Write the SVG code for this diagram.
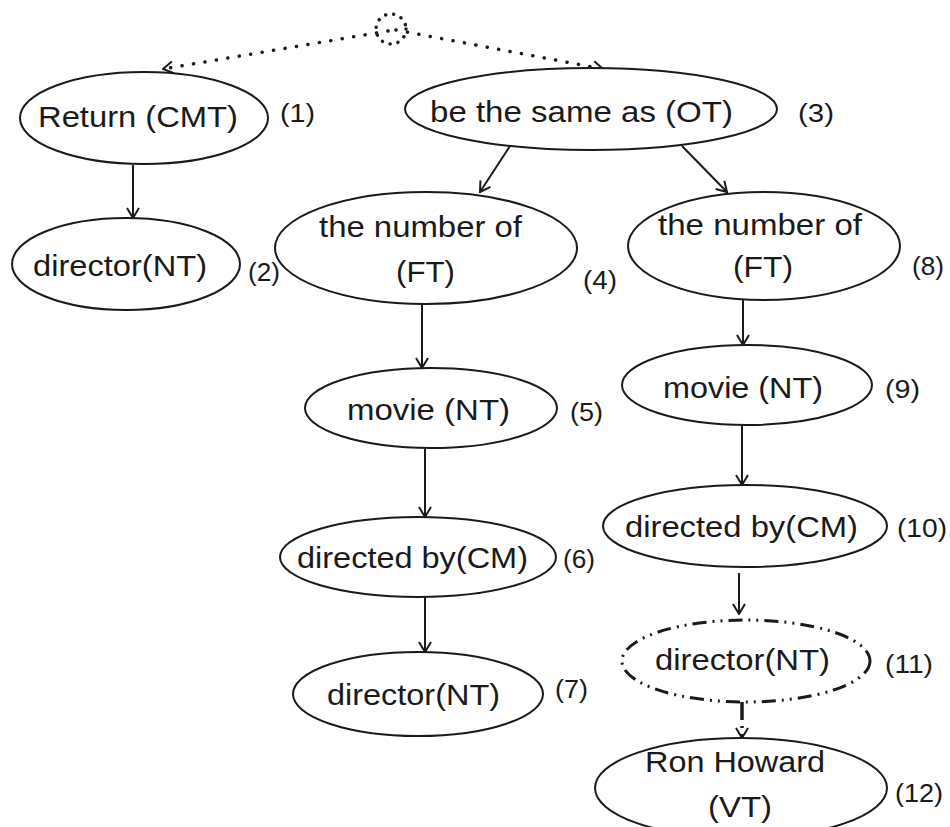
<svg xmlns="http://www.w3.org/2000/svg" width="950" height="827" viewBox="0 0 950 827">
<style>
.n{fill:#fff;stroke:#1a1a1a;stroke-width:2}
.dd{fill:#fff;stroke:#1a1a1a;stroke-width:3;stroke-dasharray:14 6 2 6 2 6;stroke-linecap:butt}
.t{font-family:"Liberation Sans",Arial,sans-serif;font-size:29px;fill:#1a1a1a}
.k{font-family:"Liberation Sans",Arial,sans-serif;font-size:26px;fill:#1a1a1a}
.e{stroke:#1a1a1a;stroke-width:2;fill:none;marker-end:url(#ah)}
.dot{stroke:#1a1a1a;stroke-width:3.5;fill:none;stroke-dasharray:0.1 11.5;stroke-linecap:round;marker-end:url(#ah)}
.thick{stroke:#1a1a1a;stroke-width:3.5;fill:none;stroke-dasharray:18 6 2 6;marker-end:url(#ah)}
</style>
<defs>
<marker id="ah" viewBox="-11 -7 12 14" refX="0" refY="0" markerWidth="12" markerHeight="14" markerUnits="userSpaceOnUse" orient="auto">
<path d="M-10,-6 L0,0 L-10,6" fill="none" stroke="#1a1a1a" stroke-width="2"/>
</marker>
</defs>
<rect width="950" height="827" fill="#fff"/>
<g id="connectors">
<path class="dot" d="M388,31 L163,69"/>
<path class="dot" d="M396,30 L603,69"/>
<path class="e" d="M133,165 L133,218"/>
<path class="e" d="M510,146 L480,192"/>
<path class="e" d="M682,146 L727,192"/>
<path class="e" d="M422,304 L422,368"/>
<path class="e" d="M743,300 L743,345"/>
<path class="e" d="M425,448 L425,517"/>
<path class="e" d="M742,425 L742,485"/>
<path class="e" d="M425,597 L425,652"/>
<path class="e" d="M739,573 L739,614"/>
<path class="thick" d="M742,702 L742,738"/>
</g>
<g id="root"><circle cx="391" cy="29" r="15" fill="none" stroke="#1a1a1a" stroke-width="3.5" stroke-dasharray="0.1 8" stroke-linecap="round"/></g>
<g id="n1"><ellipse class="n" cx="144" cy="118" rx="124" ry="46"/><text class="t" x="38" y="127" textLength="200" lengthAdjust="spacingAndGlyphs">Return (CMT)</text><text class="k" x="280" y="122" textLength="35" lengthAdjust="spacingAndGlyphs">(1)</text></g>
<g id="n2"><ellipse class="n" cx="126" cy="264" rx="114" ry="46"/><text class="t" x="33" y="276" textLength="174" lengthAdjust="spacingAndGlyphs">director(NT)</text><text class="k" x="248" y="281" textLength="32" lengthAdjust="spacingAndGlyphs">(2)</text></g>
<g id="n3"><ellipse class="n" cx="591" cy="109" rx="186" ry="41"/><text class="t" x="430" y="122" textLength="303" lengthAdjust="spacingAndGlyphs">be the same as (OT)</text><text class="k" x="798" y="122" textLength="36" lengthAdjust="spacingAndGlyphs">(3)</text></g>
<g id="n4"><ellipse class="n" cx="426" cy="248" rx="151" ry="56"/><text class="t" x="319" y="237" textLength="203" lengthAdjust="spacingAndGlyphs">the number of</text><text class="t" x="396" y="282" textLength="59" lengthAdjust="spacingAndGlyphs">(FT)</text><text class="k" x="583" y="289" textLength="34" lengthAdjust="spacingAndGlyphs">(4)</text></g>
<g id="n8"><ellipse class="n" cx="764" cy="246" rx="136" ry="54"/><text class="t" x="658" y="235" textLength="204" lengthAdjust="spacingAndGlyphs">the number of</text><text class="t" x="733" y="277" textLength="60" lengthAdjust="spacingAndGlyphs">(FT)</text><text class="k" x="912" y="275" textLength="32" lengthAdjust="spacingAndGlyphs">(8)</text></g>
<g id="n5"><ellipse class="n" cx="431" cy="408" rx="126" ry="40"/><text class="t" x="347" y="420" textLength="163" lengthAdjust="spacingAndGlyphs">movie (NT)</text><text class="k" x="570" y="421" textLength="33" lengthAdjust="spacingAndGlyphs">(5)</text></g>
<g id="n9"><ellipse class="n" cx="747" cy="385" rx="125" ry="40"/><text class="t" x="663" y="398" textLength="160" lengthAdjust="spacingAndGlyphs">movie (NT)</text><text class="k" x="885" y="398" textLength="35" lengthAdjust="spacingAndGlyphs">(9)</text></g>
<g id="n6"><ellipse class="n" cx="418" cy="557" rx="138" ry="40"/><text class="t" x="297" y="568" textLength="231" lengthAdjust="spacingAndGlyphs">directed by(CM)</text><text class="k" x="563" y="568" textLength="32" lengthAdjust="spacingAndGlyphs">(6)</text></g>
<g id="n10"><ellipse class="n" cx="745" cy="526" rx="142" ry="41"/><text class="t" x="625" y="537" textLength="233" lengthAdjust="spacingAndGlyphs">directed by(CM)</text><text class="k" x="897" y="537" textLength="50" lengthAdjust="spacingAndGlyphs">(10)</text></g>
<g id="n7"><ellipse class="n" cx="418" cy="694" rx="125" ry="42"/><text class="t" x="327" y="705" textLength="173" lengthAdjust="spacingAndGlyphs">director(NT)</text><text class="k" x="555" y="698" textLength="33" lengthAdjust="spacingAndGlyphs">(7)</text></g>
<g id="n11"><ellipse class="dd" cx="746" cy="661" rx="124" ry="41"/><text class="t" x="655" y="670" textLength="175" lengthAdjust="spacingAndGlyphs">director(NT)</text><text class="k" x="885" y="673" textLength="48" lengthAdjust="spacingAndGlyphs">(11)</text></g>
<g id="n12"><ellipse class="n" cx="741" cy="788" rx="146" ry="50"/><text class="t" x="645" y="772" textLength="180" lengthAdjust="spacingAndGlyphs">Ron Howard</text><text class="t" x="708" y="817" textLength="64" lengthAdjust="spacingAndGlyphs">(VT)</text><text class="k" x="895" y="802" textLength="48" lengthAdjust="spacingAndGlyphs">(12)</text></g>
</svg>
